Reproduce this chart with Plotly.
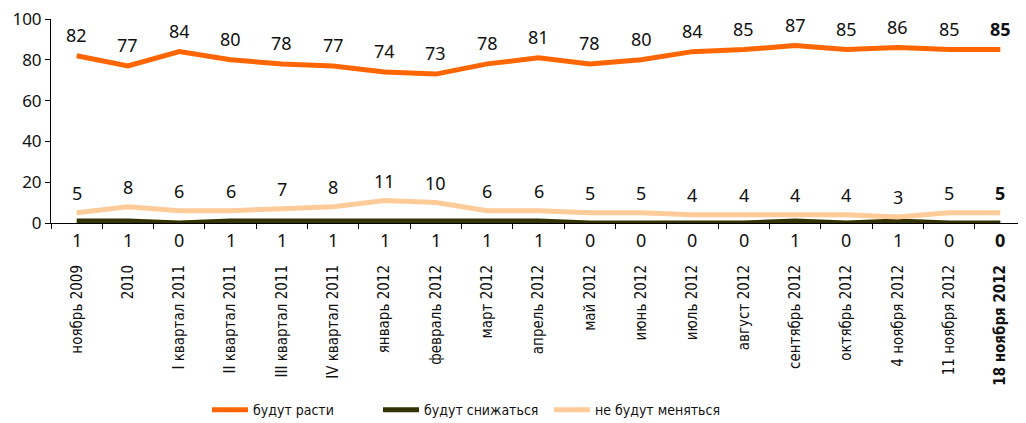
import plotly.graph_objects as go

categories = ["ноябрь 2009", "2010", "I квартал 2011", "II квартал 2011", "III квартал 2011",
              "IV квартал 2011", "январь 2012", "февраль 2012", "март 2012", "апрель 2012",
              "май 2012", "июнь 2012", "июль 2012", "август 2012", "сентябрь 2012",
              "октябрь 2012", "4 ноября 2012", "11 ноября 2012", "18 ноября 2012"]
grow = [82, 77, 84, 80, 78, 77, 74, 73, 78, 81, 78, 80, 84, 85, 87, 85, 86, 85, 85]
fall = [1, 1, 0, 1, 1, 1, 1, 1, 1, 1, 0, 0, 0, 0, 1, 0, 1, 0, 0]
same = [5, 8, 6, 6, 7, 8, 11, 10, 6, 6, 5, 5, 4, 4, 4, 4, 3, 5, 5]
series_names = ["будут расти", "будут снижаться", "не будут меняться"]
colors = ["#FF6600", "#333300", "#FFCC99"]

VAL_FONT = "Noto Sans, Open Sans, sans-serif"
COND_FONT = "Liberation Sans Narrow, DejaVu Sans Condensed, Roboto, sans-serif"


def labels(vals):
    t = [str(v) for v in vals]
    t[-1] = "<b>" + t[-1] + "</b>"
    return t


tick_text = list(categories)
tick_text[-1] = "<b>" + tick_text[-1] + "</b>"
idx = list(range(len(categories)))

fig = go.Figure()
for name, vals, col in zip(series_names, [grow, fall, same], colors):
    fig.add_trace(go.Scatter(x=idx, y=vals, name=name, mode="lines",
                             line=dict(color=col, width=5), cliponaxis=False))

for vals, shift in [(grow, 21), (same, 20), (fall, -17)]:
    for i, v, t in zip(idx, vals, labels(vals)):
        fig.add_annotation(x=i, y=v if shift > 0 else 0, text=t, showarrow=False,
                           yanchor="middle", yshift=shift,
                           font=dict(size=18, color="#111", family=VAL_FONT))

fig.update_layout(
    width=1018, height=415,
    margin=dict(l=43, r=0, t=11, b=200, autoexpand=False),
    plot_bgcolor="white", paper_bgcolor="white",
    showlegend=True,
    legend=dict(orientation="h", x=0.16, xanchor="left", y=-0.917, yanchor="middle",
                font=dict(size=14, family=COND_FONT, color="#111"),
                itemwidth=36, entrywidth=120, entrywidthmode="pixels"),
    xaxis=dict(tickmode="array", tickvals=idx, ticktext=tick_text,
               tickangle=-90, ticks="", ticklen=5,
               tickcolor="#000", showline=True, linecolor="#000", linewidth=1,
               showgrid=False, ticklabelstandoff=35, automargin=False, zeroline=False,
               tickfont=dict(size=15, family=COND_FONT, color="#111"),
               minor=dict(tickvals=[i - 0.5 for i in idx] + [idx[-1] + 0.5],
                          ticks="outside", ticklen=5, tickcolor="#000", showgrid=False),
               range=[-0.5, len(categories) - 0.5]),
    yaxis=dict(range=[0, 100], tickvals=[0, 20, 40, 60, 80, 100], ticks="outside",
               ticklen=5, tickcolor="#000", showline=True, linecolor="#000", linewidth=1,
               showgrid=False, zeroline=False, automargin=False, ticklabeloverflow="allow",
               tickfont=dict(size=17, family=VAL_FONT, color="#111")),
)

fig.write_html("out.html")
